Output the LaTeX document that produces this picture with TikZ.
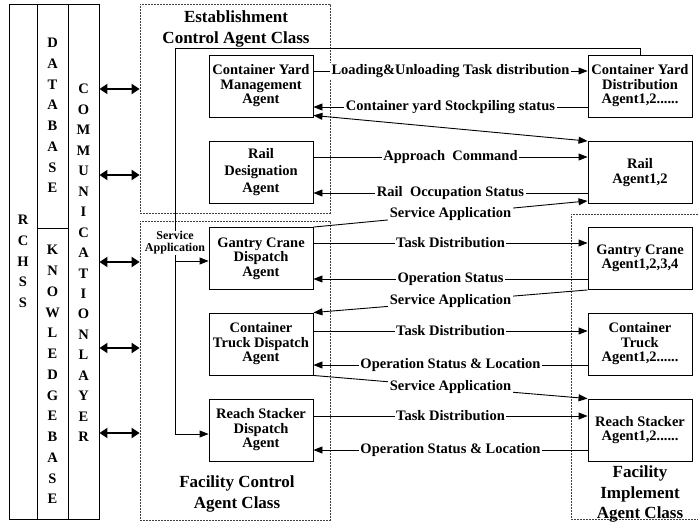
\documentclass[tikz,border=0pt]{standalone}
\usepackage{fontspec}
\setmainfont{Liberation Serif}
\usetikzlibrary{arrows.meta,calc}
\begin{document}
\begin{tikzpicture}[x=1pt,y=-1pt,
  every node/.style={font=\bfseries},
  box/.style={draw, line width=0.9pt, minimum width=104pt, minimum height=62pt, inner sep=0pt, align=center, font=\fontsize{14.5}{14.5}\selectfont\bfseries},
  lbl/.style={fill=white, inner xsep=1.5pt, inner ysep=1pt, font=\fontsize{14.5}{15}\selectfont\bfseries},
  slbl/.style={fill=white, inner sep=1pt, align=center, font=\fontsize{12}{12}\selectfont\bfseries},
  title/.style={align=center, inner sep=0pt, font=\fontsize{17}{20.5}\selectfont\bfseries},
  vert/.style={align=center, inner sep=0pt},
  col/.style={draw, line width=0.9pt, inner sep=0pt},
  dashbox/.style={draw=black!75, line width=0.8pt, dash pattern=on 2pt off 1pt, inner sep=0pt},
  conn/.style={line width=0.9pt},
  arr/.style={conn, -{Triangle[length=9pt,width=7pt]}},
  darr/.style={conn, {Triangle[length=9pt,width=7pt]}-{Triangle[length=9pt,width=7pt]}},
  bigarr/.style={line width=2pt, {Triangle[length=8pt,width=10pt]}-{Triangle[length=8pt,width=10pt]}}
]
\useasboundingbox (0,0) rectangle (699,523);

% left columns
\node[col, minimum width=28pt, minimum height=515pt] (rchss) at (23,261.5) {};
\node[col, minimum width=31pt, minimum height=224pt] (db) at (52.5,116) {};
\node[col, minimum width=31pt, minimum height=291pt] (kb) at (52.5,373.5) {};
\node[col, minimum width=31pt, minimum height=515pt] (comm) at (83.5,261.5) {};
\node[vert, font=\fontsize{14.5}{20.75}\selectfont\bfseries] (t-rchss) at (23,261.5) {R\\C\\H\\S\\S};
\node[vert, font=\fontsize{14.5}{20.7}\selectfont\bfseries] (t-db) at (52.5,115.5) {D\\A\\T\\A\\B\\A\\S\\E};
\node[vert, font=\fontsize{14.5}{20.75}\selectfont\bfseries] (t-kb) at (52.5,374.5) {K\\N\\O\\W\\L\\E\\D\\G\\E\\B\\A\\S\\E};
\node[vert, font=\fontsize{14.5}{20.47}\selectfont\bfseries] (t-comm) at (83.5,263) {C\\O\\M\\M\\U\\N\\I\\C\\A\\T\\I\\O\\N\\L\\A\\Y\\E\\R};

% dashed class boxes
\node[dashbox, minimum width=190pt, minimum height=209pt] (est) at (235,108.5) {};
\node[dashbox, minimum width=190pt, minimum height=299pt] (fcb) at (235,370.5) {};
\draw[draw=black!75, line width=0.8pt, dash pattern=on 2pt off 1pt] (698,214) -- (571,214) -- (571,519) -- (698,519);

% titles
\node[title] (estt) at (236,29) {Establishment\\Control Agent Class};
\node[title] (fct) at (237,494) {Facility Control\\Agent Class};
\node[title] (fit) at (640,494) {Facility\\Implement\\Agent Class};

% double arrows
\foreach \yy in {89,175} \draw[bigarr] (comm.east |- 0,\yy) -- (est.west |- 0,\yy);
\foreach \yy in {262,348,433} \draw[bigarr] (comm.east |- 0,\yy) -- (fcb.west |- 0,\yy);

% agent boxes
\node[box] (cym) at (261,86) {Container Yard\\Management\\Agent};
\node[box, font=\fontsize{14.5}{17}\selectfont\bfseries] (rda) at (261,172.5) {Rail\\Designation\\Agent};
\node[box] (gcd) at (261,258.5) {Gantry Crane\\Dispatch\\Agent};
\node[box] (ctd) at (261,344) {Container\\Truck Dispatch\\Agent};
\node[box] (rsd) at (261,430) {Reach Stacker\\Dispatch\\Agent};
\node[box] (cyd) at (640,86) {Container Yard\\Distribution\\Agent1,2......};
\node[box] (rail) at (640,172.5) {Rail\\Agent1,2};
\node[box] (gca) at (640,258.5) {Gantry Crane\\Agent1,2,3,4};
\node[box] (cta) at (640,344) {Container\\Truck\\Agent1,2......};
\node[box] (rsa) at (640,430) {Reach Stacker\\Agent1,2......};

% connectors
\draw[arr] ([yshift=15pt]cym.east) -- node[lbl]{Loading\&Unloading Task distribution} ([yshift=15pt]cyd.west);
\draw[arr] ([yshift=-21pt]cyd.west) -- node[lbl]{Container yard Stockpiling status} ([yshift=-21pt]cym.east);
\draw[darr] ([yshift=2pt]cym.south east) -- (rail.north west);
\draw[arr] ([yshift=15.5pt]rda.east) -- node[lbl]{Approach\ \ Command} ([yshift=15.5pt]rail.west);
\draw[arr] ([yshift=-20.5pt]rail.west) -- node[lbl]{Rail\ \ Occupation Status} ([yshift=-20.5pt]rda.east);
\draw[arr] (gcd.north east) -- node[lbl]{Service Application} ([yshift=3pt]rail.south west);
\draw[arr] ([yshift=15.5pt]gcd.east) -- node[lbl]{Task Distribution} ([yshift=15.5pt]gca.west);
\draw[arr] ([yshift=-20.5pt]gca.west) -- node[lbl]{Operation Status} ([yshift=-20.5pt]gcd.east);
\draw[arr] (gca.south west) -- node[lbl]{Service Application} (ctd.north east);
\draw[arr] ([yshift=13pt]ctd.east) -- node[lbl]{Task Distribution} ([yshift=13pt]cta.west);
\draw[arr] ([yshift=-21pt]cta.west) -- node[lbl]{Operation Status \& Location} ([yshift=-21pt]ctd.east);
\draw[arr] (ctd.south east) -- node[lbl]{Service Application} (rsa.north west);
\draw[arr] ([yshift=14pt]rsd.east) -- node[lbl]{Task Distribution} ([yshift=14pt]rsa.west);
\draw[arr] ([yshift=-20pt]rsa.west) -- node[lbl]{Operation Status \& Location} ([yshift=-20pt]rsd.east);

% service application tree
\coordinate (t1) at (175,48);
\coordinate (t2) at (175,261);
\coordinate (t3) at (175,434);
\draw[arr] (cyd.north) |- (t1) -- (t3) -- (rsd.west |- t3);
\draw[arr] (t2) -- (gcd.west |- t2);
\node[slbl] (sa) at (175,243) {Service\\Application};
\end{tikzpicture}
\end{document}
